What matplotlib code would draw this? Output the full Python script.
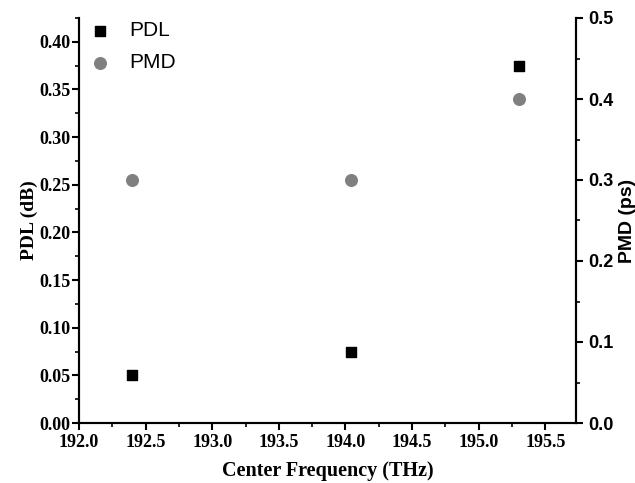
import matplotlib
matplotlib.use('Agg')
import matplotlib.pyplot as plt
from matplotlib.ticker import MultipleLocator, FormatStrFormatter

# Channel centre frequencies (THz) and measured values
freq = [192.4, 194.04, 195.3]
pdl = [0.05, 0.075, 0.375]   # dB
pmd = [0.3, 0.3, 0.4]        # ps

serif = {'family': 'Liberation Serif', 'weight': 'bold'}
sans = {'family': 'Liberation Sans', 'weight': 'bold'}

fig = plt.figure(figsize=(6.35, 4.83), dpi=100)
ax = fig.add_axes([79 / 635, 60 / 483, 497 / 635, 405 / 483])
ax2 = ax.twinx()

ax.scatter(freq, pdl, marker='s', s=45, color='black', label='PDL', zorder=3)
ax2.scatter(freq, pmd, marker='o', s=70, color='#808080', label='PMD', zorder=3)

ax.set_xlim(192.0, 195.73)
ax.set_ylim(0, 0.425)
ax2.set_ylim(0, 0.5)

ax.xaxis.set_major_locator(MultipleLocator(0.5))
ax.xaxis.set_minor_locator(MultipleLocator(0.25))
ax.xaxis.set_major_formatter(FormatStrFormatter('%.1f'))
ax.yaxis.set_major_locator(MultipleLocator(0.05))
ax.yaxis.set_minor_locator(MultipleLocator(0.025))
ax.yaxis.set_major_formatter(FormatStrFormatter('%.2f'))
ax2.yaxis.set_major_locator(MultipleLocator(0.1))
ax2.yaxis.set_minor_locator(MultipleLocator(0.05))
ax2.yaxis.set_major_formatter(FormatStrFormatter('%.1f'))

for a in (ax, ax2):
    a.spines['top'].set_visible(False)
    for sp in a.spines.values():
        sp.set_linewidth(1.5)

ax.tick_params(which='major', direction='out', length=5, width=1.5, pad=1)
ax.tick_params(axis='x', which='major', pad=3)
ax.tick_params(which='minor', direction='out', length=3, width=1.2)
ax2.tick_params(which='major', direction='out', length=5, width=1.5, pad=4)
ax2.tick_params(which='minor', direction='out', length=3, width=1.2)

for lbl in ax.get_xticklabels() + ax.get_yticklabels():
    lbl.set_fontfamily(serif['family'])
    lbl.set_fontweight('bold')
    lbl.set_fontsize(13)
for lbl in ax2.get_yticklabels():
    lbl.set_fontfamily(sans['family'])
    lbl.set_fontweight('bold')
    lbl.set_fontsize(13)

ax.set_xlabel('Center Frequency (THz)', fontsize=14.5, labelpad=7, **serif)
ax.set_ylabel('PDL (dB)', fontsize=14, labelpad=1, **serif)
ax2.set_ylabel('PMD (ps)', fontsize=14, labelpad=4, **sans)

h1, l1 = ax.get_legend_handles_labels()
h2, l2 = ax2.get_legend_handles_labels()
ax2.legend(h1 + h2, l1 + l2, loc='upper left', frameon=False,
           prop={'family': 'Liberation Sans', 'size': 15},
           handletextpad=0.4, labelspacing=0.6, borderaxespad=0.0,
           bbox_to_anchor=(-0.017, 1.012))

fig.savefig('out.png', dpi=100)
